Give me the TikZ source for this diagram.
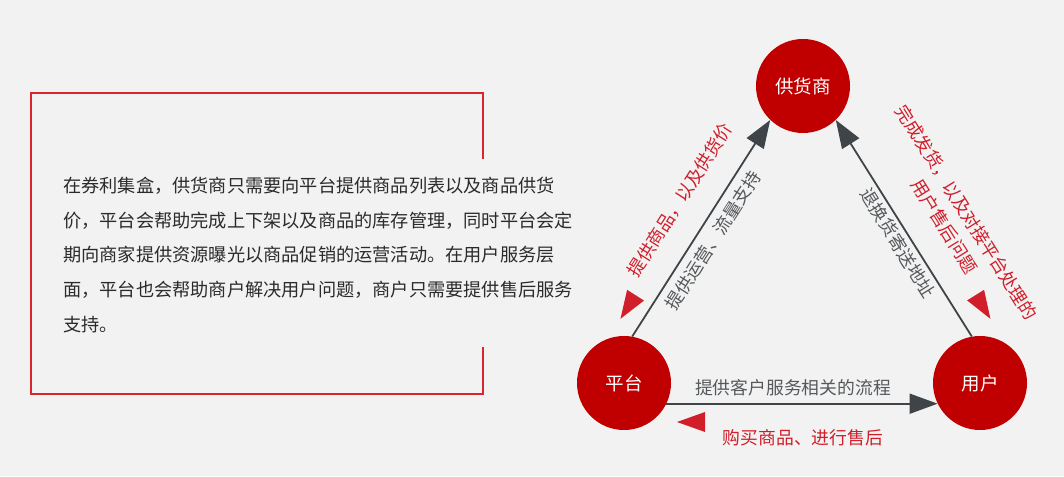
\documentclass[tikz,border=0pt]{standalone}
\usepackage{fontspec}
\setmainfont{Noto Sans CJK SC}
\usetikzlibrary{arrows.meta}
\definecolor{bgc}{HTML}{F2F2F2}
\definecolor{circc}{HTML}{C00000}
\definecolor{redtxt}{HTML}{D01E2A}
\definecolor{arrc}{HTML}{3E4447}
\definecolor{graytxt}{HTML}{55595C}
\definecolor{boxred}{HTML}{D8262F}
\definecolor{bodytxt}{HTML}{2B2B2B}
\tikzset{
  hub/.style={circle, fill=circc, minimum size=94pt, inner sep=0pt, text=white, font=\fontsize{18.5}{20}\selectfont},
  flow/.style={draw=arrc, line width=1.8pt, -{Triangle[length=28pt,width=20pt]}},
  glabel/.style={text=graytxt, font=\fontsize{17.8}{20}\selectfont, inner sep=0pt},
  rlabel/.style={text=redtxt, font=\fontsize{17.8}{26}\selectfont, inner sep=0pt, align=center},
  marker/.style={fill=redtxt},
}
\newcommand\redmark[3]{\fill[marker, shift={(#1,#2)}, rotate=#3] (14,0) -- (-14,10) -- (-14,-10) -- cycle;}
\begin{document}
\begin{tikzpicture}[x=1pt,y=1pt]
\fill[bgc] (0,0) rectangle (1064,476);
\useasboundingbox (0,0) rectangle (1064,476);
% left box
\draw[boxred, line width=1.1pt] (483,317) -- (483,383) -- (31,383) -- (31,82) -- (483,82) -- (483,129);
\node[anchor=west, align=left, text=bodytxt, inner sep=0pt, font=\fontsize{18.2}{34.7}\selectfont] (desc) at (63,221)
 {在券利集盒，供货商只需要向平台提供商品列表以及商品供货\\
  价，平台会帮助完成上下架以及商品的库存管理，同时平台会定\\
  期向商家提供资源曝光以商品促销的运营活动。在用户服务层\\
  面，平台也会帮助商户解决用户问题，商户只需要提供售后服务\\
  支持。};
% hubs
\node[hub] (gys) at (803,390) {供货商};
\node[hub] (pt) at (624,93) {平台};
\node[hub] (yh) at (980,93) {用户};
% connectors
\draw[flow] (pt.80) -- (gys.226);
\draw[flow] (yh.100) -- (gys.314);
\draw[flow] (pt.-26.5) -- (yh.206.5);
% labels
\node[glabel, rotate=57.5] (l1) at (713,236) {提供运营、流量支持};
\node[rlabel, rotate=57.5] (r1) at (680,276) {提供商品，以及供货价};
\node[glabel, rotate=-58] (l2) at (898,233) {退换货寄送地址};
\node[rlabel, rotate=-58] (r2) at (955.5,256.5) {完成发货，以及对接平台处理的\\用户售后问题};
\node[glabel] (l3) at (793,88) {提供客户服务相关的流程};
\node[rlabel] (r3) at (803,38) {购买商品、进行售后};
% markers
\redmark{628}{169}{237.5}
\redmark{983}{169}{302}
\redmark{691}{54}{180}
\end{tikzpicture}
\end{document}
